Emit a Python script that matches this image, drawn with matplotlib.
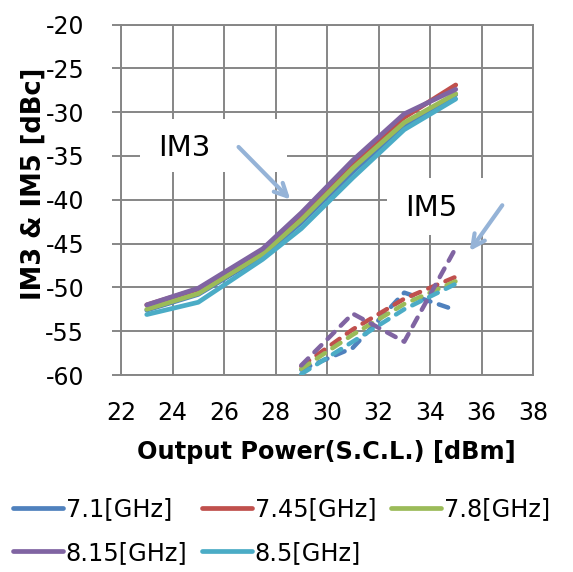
import matplotlib.pyplot as plt
from matplotlib.patches import Rectangle

plt.rcParams['font.family'] = ['DejaVu Sans']
plt.rcParams['axes.unicode_minus'] = False

# frequencies and colours (Excel 2007 palette)
labels = ['7.1[GHz]', '7.45[GHz]', '7.8[GHz]', '8.15[GHz]', '8.5[GHz]']
colors = ['#4F81BD', '#C0504D', '#9BBB59', '#8064A2', '#4BACC6']

# IM3 (solid lines)
im3_power = [23, 25, 27.5, 29, 31, 33, 35]
im3_71 = [-52.6, -50.8, -46.4, -42.6, -36.8, -31.5, -28.0]
im3_745 = [-52.0, -50.2, -45.8, -41.8, -35.8, -30.6, -26.9]
im3_78 = [-52.5, -50.7, -46.2, -42.3, -36.4, -31.2, -27.9]
im3_815 = [-52.0, -50.1, -45.6, -41.5, -35.5, -30.2, -27.4]
im3_85 = [-53.1, -51.7, -46.8, -43.3, -37.5, -32.0, -28.5]

# IM5 (dashed lines)
im5_power = [29, 31, 33, 35]
im5_71 = [-59.4, -56.9, -50.6, -52.6]
im5_745 = [-59.0, -54.8, -51.3, -48.8]
im5_78 = [-59.3, -55.4, -51.9, -49.3]
im5_815 = [-58.9, -53.0, -56.2, -45.5]
im5_85 = [-59.9, -56.2, -52.5, -49.6]

im3_all = [im3_71, im3_745, im3_78, im3_815, im3_85]
im5_all = [im5_71, im5_745, im5_78, im5_815, im5_85]

grid_color = '#868686'
arrow_color = '#95B3D7'

fig = plt.figure(figsize=(5.73, 5.72), dpi=100)
ax = fig.add_axes([121/573, 1-375/572, 412/573, 350.5/572])

handles = []
for vals, col, lab in zip(im3_all, colors, labels):
    h, = ax.plot(im3_power, vals, color=col, lw=3.4, solid_capstyle='round',
                 solid_joinstyle='round', label=lab, zorder=3)
    handles.append(h)
for vals, col in zip(im5_all, colors):
    ax.plot(im5_power, vals, color=col, lw=3.2, dashes=(2.2, 2.0),
            dash_capstyle='round', zorder=3)

ax.set_xlim(22, 38)
ax.set_ylim(-60, -20)
ax.set_xticks(range(22, 39, 2))
ax.set_yticks(range(-60, -19, 5))
ax.grid(True, color=grid_color, lw=1.4, zorder=0)
ax.set_axisbelow(True)
for s in ax.spines.values():
    s.set_color(grid_color)
    s.set_linewidth(1.4)
ax.tick_params(axis='y', length=6.5, width=1.4, color=grid_color, pad=20,
               labelsize=17)
ax.tick_params(axis='x', length=0, pad=19, labelsize=17)

# white text boxes for the annotations
ax.add_patch(Rectangle((22 + (140-121)/25.75, -20 - (172-24.5)/8.7625),
                       147/25.75, 53/8.7625, facecolor='white',
                       edgecolor='none', zorder=1.5))
ax.add_patch(Rectangle((22 + (387-121)/25.75, -20 - (235-24.5)/8.7625),
                       147/25.75, 57/8.7625, facecolor='white',
                       edgecolor='none', zorder=1.5, clip_on=False))
ax.text(24.45, -34.1, 'IM3', fontsize=21, ha='center', va='center', zorder=4)
ax.text(34.04, -40.95, 'IM5', fontsize=21, ha='center', va='center', zorder=4)

ax.annotate('', xy=(28.65, -40.2), xytext=(26.49, -33.75),
            arrowprops=dict(arrowstyle='->,head_length=0.9,head_width=0.45',
                            color=arrow_color, lw=3), zorder=4)
ax.annotate('', xy=(35.48, -46.1), xytext=(36.87, -40.37),
            arrowprops=dict(arrowstyle='->,head_length=0.9,head_width=0.45',
                            color=arrow_color, lw=3), zorder=4)

fig.text(34/573, 1-184/572, 'IM3 & IM5 [dBc]', rotation=90, fontsize=18.5,
         fontweight='bold', ha='center', va='center')
fig.text(326.5/573, 1-452/572, 'Output Power(S.C.L.) [dBm]', fontsize=17.3,
         fontweight='bold', ha='center', va='center')

order = [0, 3, 1, 4, 2]
fig.legend([handles[i] for i in order], [labels[i] for i in order],
           ncol=3, loc='lower left', bbox_to_anchor=(0.01, 0.0),
           frameon=False, fontsize=17.3, handlelength=2.1, handletextpad=0.1,
           columnspacing=0.6, labelspacing=0.8, borderaxespad=0.0,
           borderpad=0.3)

fig.savefig('out.png', dpi=100)
